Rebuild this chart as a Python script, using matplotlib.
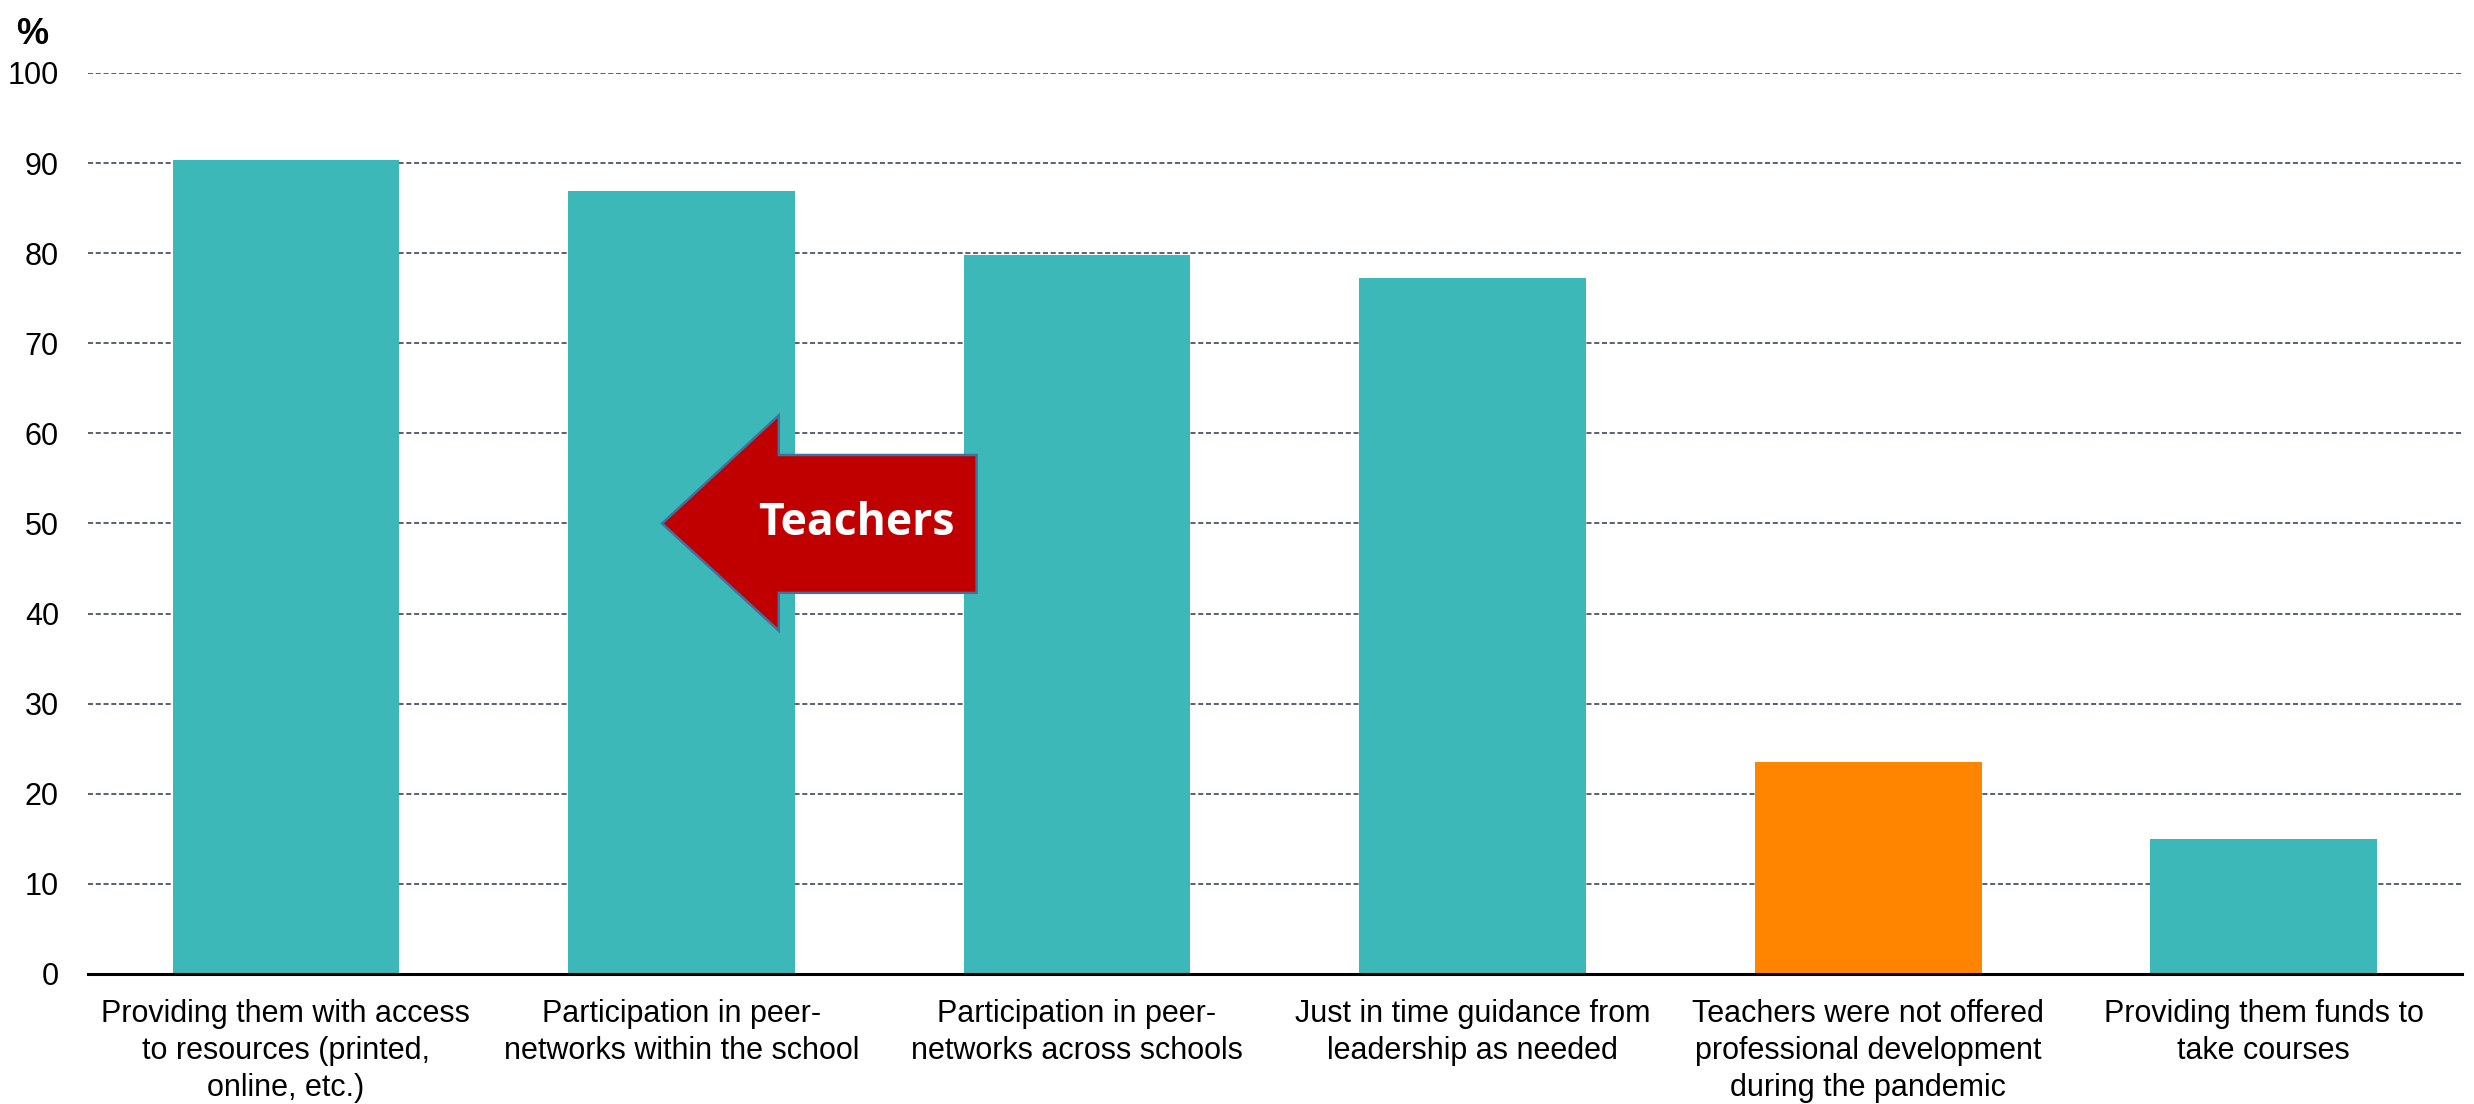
import matplotlib
matplotlib.use("Agg")
import matplotlib.pyplot as plt
from matplotlib.patches import Polygon

categories = [
    "Providing them with access\nto resources (printed,\nonline, etc.)",
    "Participation in peer-\nnetworks within the school",
    "Participation in peer-\nnetworks across schools",
    "Just in time guidance from\nleadership as needed",
    "Teachers were not offered\nprofessional development\nduring the pandemic",
    "Providing them funds to\ntake courses",
]
values = [90.3, 86.9, 79.8, 77.2, 23.5, 15.0]
colors = ["#3DB8B8", "#3DB8B8", "#3DB8B8", "#3DB8B8", "#FF8500", "#3DB8B8"]
yticks = [0, 10, 20, 30, 40, 50, 60, 70, 80, 90, 100]

plt.rcParams['font.family'] = ['Liberation Sans', 'DejaVu Sans']

fig = plt.figure(figsize=(24.74, 11.04), dpi=100)
ax = fig.add_axes([0.0356, 0.1178, 0.9594, 0.8161])

x = list(range(len(categories)))
ax.bar(x, values, width=0.573, color=colors, zorder=2)

ax.set_xlim(-0.5, 5.5)
ax.set_ylim(0, 100)
ax.set_yticks(yticks)
ax.set_yticklabels([str(v) for v in yticks], fontsize=22)
ax.set_xticks(x)
ax.set_xticklabels(categories, fontsize=22, linespacing=1.3)
ax.tick_params(axis='y', length=0, pad=21)
ax.tick_params(axis='x', length=0, pad=18)

for v in yticks[1:]:
    ax.axhline(v, color="#4A5568", lw=1.3, ls=(0, (2.8, 1.5)), zorder=1)

for s in ['top', 'right', 'left']:
    ax.spines[s].set_visible(False)
ax.spines['bottom'].set_color('black')
ax.spines['bottom'].set_linewidth(2.2)
ax.spines['bottom'].set_zorder(3)

# arrow annotation
arrow_pts = [(0.951, 50.0), (1.246, 62.0), (1.246, 57.6), (1.746, 57.6),
             (1.746, 42.3), (1.246, 42.3), (1.246, 38.1)]
ax.add_patch(Polygon(arrow_pts, closed=True, facecolor="#C00000",
                     edgecolor="#41719C", lw=1.8, zorder=4))
ax.text(1.443, 50.0, "Teachers", color="white", fontsize=32, fontweight='bold',
        family=['Open Sans', 'DejaVu Sans'], ha='center', va='center', zorder=5)

fig.text(0.0065, 0.985, "%", fontsize=26, fontweight='bold', ha='left', va='top')

fig.savefig("out.png", dpi=100)
